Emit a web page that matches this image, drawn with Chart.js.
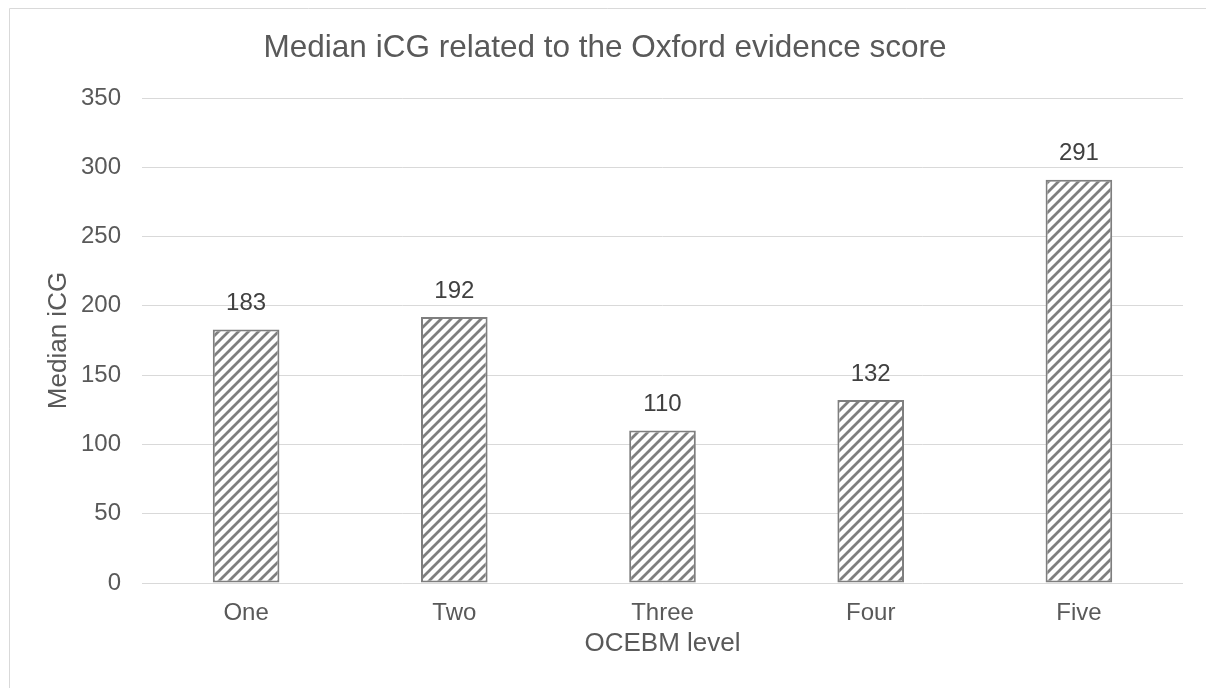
<!DOCTYPE html>
<html>
<head>
<meta charset="utf-8">
<script src="https://cdn.jsdelivr.net/npm/chart.js@4.4.1/dist/chart.umd.min.js"></script>
<style>
  body { margin: 0; background: #fff; overflow: hidden; }
  canvas { display: block; }
</style>
</head>
<body>
<canvas id="icgChart" width="1206" height="688"></canvas>
<script>
// chart data
var chartTitle = "Median iCG related to the Oxford evidence score";
var levels = ["One", "Two", "Three", "Four", "Five"];
var medianIcg = [183, 192, 110, 132, 291];
var yTicks = [0, 50, 100, 150, 200, 250, 300, 350];

var FONT = "'Liberation Sans', Arial, sans-serif";

// diagonal hatch fill like the Excel pattern
function makeHatch() {
  var s = 10;
  var c = document.createElement("canvas");
  c.width = s; c.height = s;
  var g = c.getContext("2d");
  g.fillStyle = "#ffffff";
  g.fillRect(0, 0, s, s);
  g.strokeStyle = "#7f7f7f";
  g.lineWidth = 2.8;
  g.beginPath();
  g.moveTo(-2, s + 2); g.lineTo(s + 2, -2);
  g.moveTo(-2, 2); g.lineTo(2, -2);
  g.moveTo(s - 2, s + 2); g.lineTo(s + 2, s - 2);
  g.stroke();
  return g.createPattern(c, "repeat");
}

// white background, chart frame and the title (centred on the whole frame)
var frame = {
  id: "frame",
  beforeDraw: function (chart) {
    var ctx = chart.ctx;
    ctx.save();
    ctx.fillStyle = "#fff";
    ctx.fillRect(0, 0, chart.width, chart.height);
    ctx.strokeStyle = "#d9d9d9";
    ctx.lineWidth = 1;
    ctx.beginPath();
    ctx.moveTo(9.5, chart.height);
    ctx.lineTo(9.5, 8.5);
    ctx.lineTo(chart.width, 8.5);
    ctx.stroke();
    ctx.font = "31.5px " + FONT;
    ctx.fillStyle = "#595959";
    ctx.textAlign = "center";
    ctx.textBaseline = "alphabetic";
    ctx.fillText(chartTitle, chart.width / 2 + 2, 57);
    ctx.restore();
  }
};

var valueLabels = {
  id: "valueLabels",
  afterDatasetsDraw: function (chart) {
    var ctx = chart.ctx;
    var meta = chart.getDatasetMeta(0);
    ctx.save();
    ctx.font = "24px " + FONT;
    ctx.fillStyle = "#404040";
    ctx.textAlign = "center";
    ctx.textBaseline = "middle";
    meta.data.forEach(function (bar, i) {
      ctx.fillText(medianIcg[i], bar.x, bar.y - 26);
    });
    ctx.restore();
  }
};

var ctx = document.getElementById("icgChart").getContext("2d");
var myChart = new Chart(ctx, {
  type: "bar",
  data: {
    labels: levels,
    datasets: [{
      data: medianIcg,
      backgroundColor: makeHatch(),
      borderColor: "#7f7f7f",
      borderWidth: 2,
      borderSkipped: false,
      barPercentage: 0.32,
      categoryPercentage: 1
    }]
  },
  options: {
    responsive: false,
    animation: false,
    layout: { padding: { left: 0, right: 23, top: 98, bottom: 0 } },
    plugins: {
      legend: { display: false },
      tooltip: { enabled: false },
      title: { display: false }
    },
    scales: {
      x: {
        grid: { display: false, drawTicks: false },
        border: { display: false },
        ticks: {
          color: "#595959",
          padding: 16,
          font: { family: FONT, size: 24 }
        },
        title: {
          display: true,
          text: "OCEBM level",
          color: "#595959",
          font: { family: FONT, size: 26 },
          padding: { top: 0, bottom: 29 }
        },
        afterFit: function (scale) { scale.height = 105; }
      },
      y: {
        min: 0,
        max: 350,
        afterBuildTicks: function (scale) {
          scale.ticks = yTicks.map(function (v) { return { value: v }; });
        },
        grid: { color: "#d9d9d9", lineWidth: 1, drawTicks: false },
        border: { display: false },
        ticks: {
          color: "#595959",
          padding: 21,
          font: { family: FONT, size: 24 }
        },
        title: {
          display: true,
          text: "Median iCG",
          color: "#595959",
          font: { family: FONT, size: 26 },
          padding: { top: 43, bottom: 0 }
        },
        afterFit: function (scale) { scale.width = 142; }
      }
    }
  },
  plugins: [frame, valueLabels]
});
</script>
</body>
</html>
